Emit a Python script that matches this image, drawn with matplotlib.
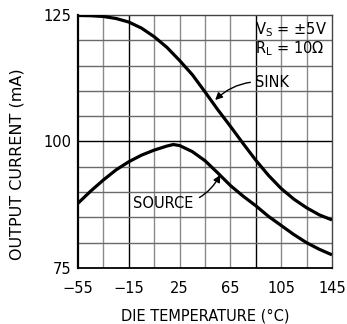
import matplotlib
matplotlib.use('Agg')
import matplotlib.pyplot as plt
import numpy as np

# Output current vs die temperature
temp_sink = [-55, -45, -35, -25, -15, -5, 5, 15, 25, 35, 45, 55, 65, 75, 85, 95, 105, 115, 125, 135, 145]
sink_ma = [124.9, 124.85, 124.7, 124.3, 123.6, 122.4, 120.7, 118.6, 116.0, 113.2, 109.8,
           106.3, 103.0, 99.6, 96.3, 93.3, 90.7, 88.6, 86.9, 85.5, 84.5]

temp_source = [-55, -45, -35, -25, -15, -5, 5, 15, 20, 25, 35, 45, 55, 65, 75, 85, 95, 105, 115, 125, 135, 145]
source_ma = [87.8, 90.2, 92.4, 94.4, 96.0, 97.3, 98.3, 99.1, 99.4, 99.2, 98.0, 96.2,
             93.8, 91.3, 89.2, 87.3, 85.2, 83.4, 81.6, 80.0, 78.7, 77.6]

xticks = [-55, -15, 25, 65, 105, 145]
yticks = [75, 100, 125]

plt.rcParams['font.family'] = ['DejaVu Sans']

fig = plt.figure(figsize=(3.47, 3.24), dpi=100)
ax = fig.add_axes([0.2248, 0.1728, 0.732, 0.781])

# grid: light lines every 20 C / 5 mA, dark lines at -15, 85 and 100
for x in np.arange(-35, 145, 20):
    dark = x in (-15, 85)
    ax.axvline(x, color='black' if dark else '#8a8a8a', lw=1.0, zorder=1)
for y in np.arange(80, 125, 5):
    dark = y == 100
    ax.axhline(y, color='black' if dark else '#6a6a6a', lw=1.0, zorder=1)

ax.plot(temp_sink, sink_ma, color='black', lw=2.3, zorder=3, solid_capstyle='butt')
ax.plot(temp_source, source_ma, color='black', lw=2.3, zorder=3, solid_capstyle='butt')

ax.set_xlim(-55, 145)
ax.set_ylim(75, 125)
ax.set_xticks(xticks)
ax.set_xticklabels([str(t).replace('-', '\u2212') for t in xticks])
ax.set_yticks(yticks)
ax.tick_params(length=0, labelsize=10.5, pad=5)
ax.tick_params(axis='x', pad=9)

for side in ['top', 'right']:
    ax.spines[side].set_color('#444444')
    ax.spines[side].set_linewidth(1.0)
ax.spines['left'].set_linewidth(1.6)
ax.spines['bottom'].set_linewidth(1.3)

ax.set_xlabel('DIE TEMPERATURE (\u00b0C)', fontsize=10.5, labelpad=9)
ax.set_ylabel('OUTPUT CURRENT (mA)', fontsize=11.5)
ax.yaxis.set_label_coords(-0.21, 0.41)

# condition text
ax.text(84.5, 123.9, '$\\mathregular{V_S}$ = \u00b15V', ha='left', va='top', fontsize=10.5, zorder=4)
ax.text(84.5, 120.2, '$\\mathregular{R_L}$ = 10\u03a9', ha='left', va='top', fontsize=10.5, zorder=4)

# curve labels with arrows
ax.annotate('SINK', xy=(53, 108.2), xytext=(84, 111.6), fontsize=10.5, va='center',
            arrowprops=dict(arrowstyle='-|>', color='black', lw=1.0,
                            connectionstyle='arc3,rad=0.25', shrinkA=1, shrinkB=0),
            zorder=4)
ax.annotate('SOURCE', xy=(57, 93.4), xytext=(-12, 87.8), fontsize=10.5, va='center',
            arrowprops=dict(arrowstyle='-|>', color='black', lw=1.0,
                            connectionstyle='arc3,rad=0.35', shrinkA=3, shrinkB=0),
            zorder=4)

plt.savefig('out.png', dpi=100)
